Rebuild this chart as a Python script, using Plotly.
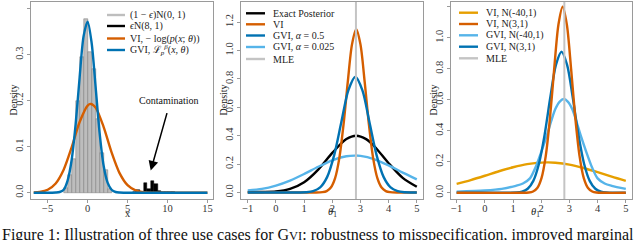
import plotly.graph_objects as go

# ---------------- data ----------------
# Panel 1: histogram (density) of clean data and contamination
hist_centers = [-2.75, -2.25, -1.75, -1.25, -0.75, -0.25, 0.25, 0.75, 1.25, 1.75, 2.25, 2.75]
hist_density = [0.010, 0.038, 0.073, 0.200, 0.295, 0.378, 0.306, 0.270, 0.160, 0.087, 0.049, 0.008]
contam_centers = [5.90, 6.34, 6.78, 7.22, 7.66, 8.10, 8.54, 8.98, 9.42, 9.86, 10.30, 10.74]
contam_density = [0.002, 0.006, 0.002, 0.022, 0.008, 0.026, 0.018, 0.003, 0.002, 0.002, 0.001, 0.001]

p1_vi_x = [-6.75, -6, -5, -4, -3, -2, -1, 0, 0.4, 1, 2, 3, 4, 5, 6, 7, 8, 9, 10, 15]
p1_vi_y = [0.0005, 0.0016, 0.0064, 0.0201, 0.050, 0.0986, 0.1536, 0.1894, 0.193, 0.185,
           0.1432, 0.0877, 0.0425, 0.0163, 0.005, 0.0012, 0.0002, 0, 0, 0]
p1_gvi_x = [-6.75, -4.5, -4, -3.5, -3, -2.5, -2, -1.5, -1, -0.5, 0, 0.5, 1, 1.5, 2, 2.5, 3, 3.5, 4, 4.5, 15]
p1_gvi_y = [0, 0, 0.0003, 0.0015, 0.0064, 0.027, 0.071, 0.149, 0.251, 0.341, 0.372, 0.326,
            0.230, 0.130, 0.059, 0.0218, 0.0064, 0.0015, 0.0003, 0, 0]

# Panel 2
p2_exact_x = [-1, -0.5, 0, 0.5, 1, 1.5, 2, 2.5, 2.85, 3.2, 3.5, 4, 4.5, 5]
p2_exact_y = [0.003, 0.004, 0.007, 0.025, 0.072, 0.161, 0.279, 0.376, 0.400, 0.376, 0.324, 0.206, 0.103, 0.040]
p2_vi_x = [-1, 1.35, 1.65, 1.8, 1.95, 2.1, 2.25, 2.4, 2.55, 2.7, 2.85, 3.0, 3.15, 3.3, 3.45, 3.6, 3.75, 3.9, 4.05, 4.35, 5]
p2_vi_y = [0, 0.0001, 0.0023, 0.0098, 0.0347, 0.101, 0.242, 0.479, 0.779, 1.043, 1.15,
           1.043, 0.779, 0.479, 0.242, 0.101, 0.0347, 0.0098, 0.0023, 0.0001, 0]
p2_gvi05_x = [-1, 0.32, 0.82, 1.07, 1.32, 1.57, 1.82, 2.07, 2.32, 2.57, 2.82, 3.07, 3.32, 3.57,
              3.82, 4.07, 4.32, 4.57, 4.82, 5]
p2_gvi05_y = [0, 0, 0.0003, 0.0018, 0.0091, 0.0358, 0.110, 0.265, 0.494, 0.719, 0.815, 0.719,
              0.494, 0.265, 0.110, 0.0358, 0.0091, 0.0018, 0.0003, 0.0001]
p2_gvi0025_x = [-1, -0.5, 0, 0.5, 1, 1.5, 2, 2.5, 2.8, 3, 3.5, 4, 4.5, 5]
p2_gvi0025_y = [0.015, 0.0254, 0.0487, 0.084, 0.130, 0.181, 0.227, 0.255, 0.260, 0.258, 0.234, 0.191, 0.140, 0.0925]
p2_mle = 2.84

# Panel 3
p3_vi40_x = [-1, -0.5, 0, 0.5, 1, 1.5, 2.2, 2.5, 3, 3.5, 4, 4.5, 5]
p3_vi40_y = [0.058, 0.0824, 0.110, 0.139, 0.165, 0.185, 0.196, 0.194, 0.182, 0.160, 0.133, 0.104, 0.077]
p3_vi3_x = [-1, 1.26, 1.56, 1.71, 1.86, 2.01, 2.16, 2.31, 2.46, 2.61, 2.76, 2.91, 3.06, 3.21,
            3.36, 3.51, 3.66, 3.81, 3.96, 4.26, 5]
p3_vi3_y = [0, 0, 0.0018, 0.0083, 0.0311, 0.095, 0.237, 0.482, 0.799, 1.084, 1.20, 1.084,
            0.799, 0.482, 0.237, 0.095, 0.0311, 0.0083, 0.0018, 0, 0]
p3_gvi40_x = [-1, 0, 0.6, 1.1, 1.35, 1.6, 1.8, 2.0, 2.2, 2.35, 2.5, 2.65, 2.8, 2.95, 3.1,
              3.25, 3.4, 3.6, 3.8, 4.0, 4.25, 4.5, 5]
p3_gvi40_y = [0.007, 0.015, 0.025, 0.045, 0.06, 0.093, 0.165, 0.263, 0.37, 0.46, 0.54, 0.587,
              0.605, 0.587, 0.54, 0.46, 0.37, 0.263, 0.165, 0.093, 0.06, 0.045, 0.025]
p3_gvi3_x = [-1, 0.82, 1.12, 1.32, 1.52, 1.72, 1.92, 2.12, 2.32, 2.52, 2.72, 2.92, 3.12, 3.32,
             3.52, 3.72, 3.92, 4.12, 4.32, 4.62, 5]
p3_gvi3_y = [0, 0.0001, 0.0016, 0.0072, 0.026, 0.0771, 0.1875, 0.374, 0.613, 0.824, 0.91,
             0.824, 0.613, 0.374, 0.1875, 0.0771, 0.026, 0.0072, 0.0016, 0.0001, 0]
p3_mle = 2.82

legend1 = ["(1 − <i>ϵ</i>)N(0, 1)", "<i>ϵ</i>N(8, 1)", "VI, − log(<i>p</i>(<i>x</i>; <i>θ</i>))",
           "GVI, ℒ<sub><i>p</i></sub><sup><i>β</i></sup>(<i>x</i>, <i>θ</i>)"]
legend2 = ["Exact Posterior", "VI", "GVI, <i>α</i> = 0.5", "GVI, <i>α</i> = 0.025", "MLE"]
legend3 = ["VI, N(-40,1)", "VI, N(3,1)", "GVI, N(-40,1)", "GVI, N(3,1)", "MLE"]

caption = ("Figure 1: Illustration of three use cases for G<span style='font-size:12.5px'>VI</span>: "
           "robustness to misspecification, improved marginal")

# ---------------- style ----------------
W, H = 640, 240
FONT = "Liberation Serif"
BLACK = "#000000"
ORANGE = "#D55E00"
BLUE = "#0072B2"
LBLUE = "#56B4E9"
YELLOW = "#E69F00"
GREY = "#BEBEBE"
MLEG = "#C4C4C4"
LW = 2.4


def px(x):
    return x / W


def py(y):
    return 1 - y / H


fig = go.Figure()

# panel 1
fig.add_trace(go.Bar(x=hist_centers, y=hist_density, width=0.5, marker=dict(color="#BDBDBD", line=dict(color="#7A7A7A", width=0.5)),
                     xaxis="x", yaxis="y", showlegend=False))
fig.add_trace(go.Bar(x=contam_centers, y=contam_density, width=0.44, marker=dict(color="#000000", line=dict(color="#000000", width=0.5)),
                     xaxis="x", yaxis="y", showlegend=False))
fig.add_trace(go.Scatter(x=p1_vi_x, y=p1_vi_y, mode="lines", line=dict(color=ORANGE, width=LW, shape="spline", smoothing=0.8),
                         xaxis="x", yaxis="y", showlegend=False))
fig.add_trace(go.Scatter(x=p1_gvi_x, y=p1_gvi_y, mode="lines", line=dict(color=BLUE, width=LW, shape="spline", smoothing=0.8),
                         xaxis="x", yaxis="y", showlegend=False))

# panel 2
for xs, ys, c in [(p2_exact_x, p2_exact_y, BLACK), (p2_gvi0025_x, p2_gvi0025_y, LBLUE),
                  (p2_vi_x, p2_vi_y, ORANGE), (p2_gvi05_x, p2_gvi05_y, BLUE)]:
    fig.add_trace(go.Scatter(x=xs, y=ys, mode="lines", line=dict(color=c, width=LW, shape="spline", smoothing=0.8),
                             xaxis="x2", yaxis="y2", showlegend=False))
fig.add_trace(go.Scatter(x=[p2_mle, p2_mle], y=[-1, 2], mode="lines", line=dict(color=MLEG, width=2),
                         xaxis="x2", yaxis="y2", showlegend=False))

# panel 3
for xs, ys, c in [(p3_vi40_x, p3_vi40_y, YELLOW), (p3_gvi40_x, p3_gvi40_y, LBLUE),
                  (p3_gvi3_x, p3_gvi3_y, BLUE), (p3_vi3_x, p3_vi3_y, ORANGE)]:
    fig.add_trace(go.Scatter(x=xs, y=ys, mode="lines", line=dict(color=c, width=LW, shape="spline", smoothing=0.8),
                             xaxis="x3", yaxis="y3", showlegend=False))
fig.add_trace(go.Scatter(x=[p3_mle, p3_mle], y=[-1, 2], mode="lines", line=dict(color=MLEG, width=2),
                         xaxis="x3", yaxis="y3", showlegend=False))

axcommon = dict(showline=True, linecolor="#9A9A9A", linewidth=1, mirror=True, ticks="outside", ticklen=3,
                tickcolor="#9A9A9A", showgrid=False, zeroline=False,
                tickfont=dict(family=FONT, size=10.5, color="#333333"))
xcommon = dict(ticklabelstandoff=-4, **axcommon)
ydom = [py(199), py(2)]

fig.update_layout(
    width=W, height=H, margin=dict(l=0, r=0, t=0, b=0),
    paper_bgcolor="white", plot_bgcolor="white", bargap=0, barmode="overlay",
    xaxis=dict(domain=[px(31), px(213)], range=[-7.09, 15.7], tickvals=[-5, 0, 5, 10, 15], anchor="y", **xcommon),
    yaxis=dict(domain=ydom, range=[-0.0137, 0.4146], tickvals=[0, 0.1, 0.2, 0.3, 0.4], tickformat=".1f",
               tickangle=-90, anchor="x", **axcommon),
    xaxis2=dict(domain=[px(241), px(423)], range=[-1.24, 5.22], tickvals=[-1, 0, 1, 2, 3, 4, 5], anchor="y2", **xcommon),
    yaxis2=dict(domain=ydom, range=[-0.0458, 1.3415], tickvals=[0, 0.2, 0.4, 0.6, 0.8, 1.0, 1.2], tickformat=".1f",
                tickangle=-90, anchor="x2", **axcommon),
    xaxis3=dict(domain=[px(451), px(632)], range=[-1.2, 5.22], tickvals=[-1, 0, 1, 2, 3, 4, 5], anchor="y3", **xcommon),
    yaxis3=dict(domain=ydom, range=[-0.04, 1.231], tickvals=[0, 0.2, 0.4, 0.6, 0.8, 1.0, 1.2], tickformat=".1f",
                tickangle=-90, anchor="x3", **axcommon),
    font=dict(family=FONT, color="#222222"),
)

shapes = []
annots = []


def legend(items, colors, x0, x1, tx, rows):
    for t, c, r in zip(items, colors, rows):
        shapes.append(dict(type="line", xref="paper", yref="paper", x0=px(x0), x1=px(x1), y0=py(r), y1=py(r),
                           line=dict(color=c, width=LW)))
        annots.append(dict(text=t, xref="paper", yref="paper", x=px(tx), y=py(r), xanchor="left", yanchor="middle",
                           showarrow=False, font=dict(family=FONT, size=10, color="#222222")))


legend(legend1, [GREY, BLACK, ORANGE, BLUE], 107, 125, 128, [15, 26, 38.5, 50])
legend(legend2, [BLACK, ORANGE, BLUE, LBLUE, MLEG], 246, 265, 271, [13.3, 24.3, 35.5, 47, 59])
legend(legend3, [YELLOW, ORANGE, LBLUE, BLUE, MLEG], 459, 478, 484, [12.7, 24, 35.3, 46.7, 58.3])

# axis titles
for xc in [13, 223, 433]:
    annots.append(dict(text="Density", xref="paper", yref="paper", x=px(xc), y=py(100.5), textangle=-90,
                       xanchor="center", yanchor="middle", showarrow=False, font=dict(family=FONT, size=10, color="#222222")))
annots.append(dict(text="x", xref="paper", yref="paper", x=px(122.5), y=py(220.5), showarrow=False,
                   font=dict(family=FONT, size=10.5, color="#222222")))
for xc in [332, 541.5]:
    annots.append(dict(text="<i>θ</i><sub>1</sub>", xref="paper", yref="paper", x=px(xc), y=py(221), showarrow=False,
                       font=dict(family=FONT, size=10.5, color="#222222")))

# contamination label and arrow
annots.append(dict(text="Contamination", x=10.1, y=0.2015, xref="x", yref="y", showarrow=False,
                   font=dict(family=FONT, size=10, color="#111111")))
annots.append(dict(text="", x=7.9, y=0.048, ax=16.7, ay=-59, xref="x", yref="y",
                   showarrow=True, arrowhead=2, arrowsize=1.3, arrowwidth=1.5, arrowcolor="#000000"))

# caption
annots.append(dict(text=caption, xref="paper", yref="paper", x=0, y=py(235), xanchor="left", yanchor="middle",
                   showarrow=False, font=dict(family=FONT, size=16, color="#111111")))

fig.update_layout(shapes=shapes, annotations=annots)
fig.write_html("out.html", config={"displayModeBar": False},
               post_script="document.body.style.margin='0px';document.body.style.overflow='hidden';")
